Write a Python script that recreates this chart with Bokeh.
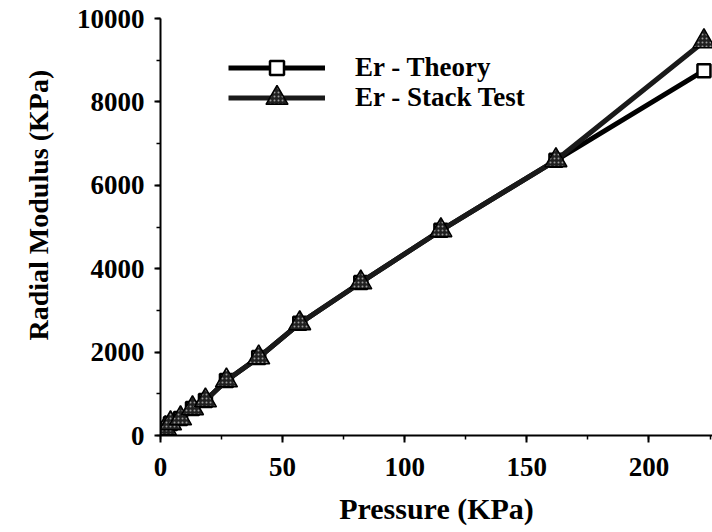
from bokeh.plotting import figure
from bokeh.models import Legend, LegendItem, Range1d, SingleIntervalTicker, Title
from bokeh.embed import file_html
from bokeh.resources import INLINE

# Data
pressure = [2.0, 4.1, 8.2, 13.1, 18.4, 27.0, 40.2, 57.0, 82.0, 114.8, 161.9, 222.5]
er_stack = [170, 290, 410, 650, 840, 1320, 1870, 2690, 3670, 4920, 6600, 9450]
er_theory = [170, 290, 410, 650, 840, 1320, 1870, 2690, 3670, 4920, 6600, 8750]

x_label = "Pressure (KPa)"
y_label = "Radial Modulus (KPa)"
theory_name = "Er - Theory"
stack_name = "Er - Stack Test"

FONT = "Liberation Serif"

p = figure(width=712, height=532, output_backend="svg", toolbar_location=None,
           x_range=Range1d(0, 226), y_range=Range1d(0, 10000),
           min_border_left=160, min_border_right=0, min_border_top=18,
           min_border_bottom=97)
p.outline_line_color = None
p.grid.visible = False
p.background_fill_color = "white"
p.border_fill_color = "white"

p.xaxis.ticker = SingleIntervalTicker(interval=50, num_minor_ticks=2)
p.yaxis.ticker = SingleIntervalTicker(interval=2000, num_minor_ticks=2)

for ax in (p.xaxis[0], p.yaxis[0]):
    ax.axis_line_width = 2
    ax.axis_line_color = "black"
    ax.major_tick_line_width = 2
    ax.major_tick_out = 7
    ax.major_tick_in = 0
    ax.minor_tick_line_width = 1.5
    ax.minor_tick_out = 4
    ax.minor_tick_in = 0
    ax.major_label_text_font = FONT
    ax.major_label_text_font_style = "bold"
    ax.major_label_text_font_size = "27px"
    ax.major_label_text_color = "black"
    ax.major_label_standoff = 11
    ax.axis_label_text_font = FONT
    ax.axis_label_text_font_style = "bold"
    ax.axis_label_text_color = "black"

p.yaxis.major_tick_out = 6
p.yaxis.major_label_standoff = 10
p.xaxis.major_label_standoff = 15
p.xaxis.axis_label = x_label
p.xaxis.axis_label_text_font_size = "30px"
p.xaxis.axis_label_standoff = 13

# y-axis title, placed as in the reference (a little above the frame centre)
ytitle = Title(text=y_label, align="left", offset=95, standoff=40,
               text_font=FONT, text_font_style="bold", text_font_size="28px",
               text_color="black")
p.add_layout(ytitle, "left")

l_th = p.line(pressure, er_theory, line_color="black", line_width=5)
m_th = p.scatter(pressure, er_theory, marker="square", size=13, fill_color="white",
                 line_color="black", line_width=2.5)
l_st = p.line(pressure, er_stack, line_color="#1a1a1a", line_width=5)
m_st = p.scatter(pressure, er_stack, marker="triangle", size=22, fill_color="#202020",
                 line_color="black", line_width=1.5, hatch_pattern="dot",
                 hatch_color="#9a9a9a", hatch_scale=4, hatch_weight=1)

common = dict(orientation="vertical", glyph_width=97, spacing=0, padding=0, margin=0,
              label_standoff=30, label_text_font=FONT, label_text_font_style="bold",
              label_text_font_size="27px", label_text_color="black",
              border_line_color=None, background_fill_alpha=0)

legend1 = Legend(items=[LegendItem(label=theory_name, renderers=[l_th, m_th])],
                 location=(68, 350), glyph_height=35, **common)
legend2 = Legend(items=[LegendItem(label=stack_name, renderers=[l_st, m_st])],
                 location=(68, 310), glyph_height=55, **common)
p.add_layout(legend1)
p.add_layout(legend2)

open("out.html", "w").write(file_html(p, INLINE))
